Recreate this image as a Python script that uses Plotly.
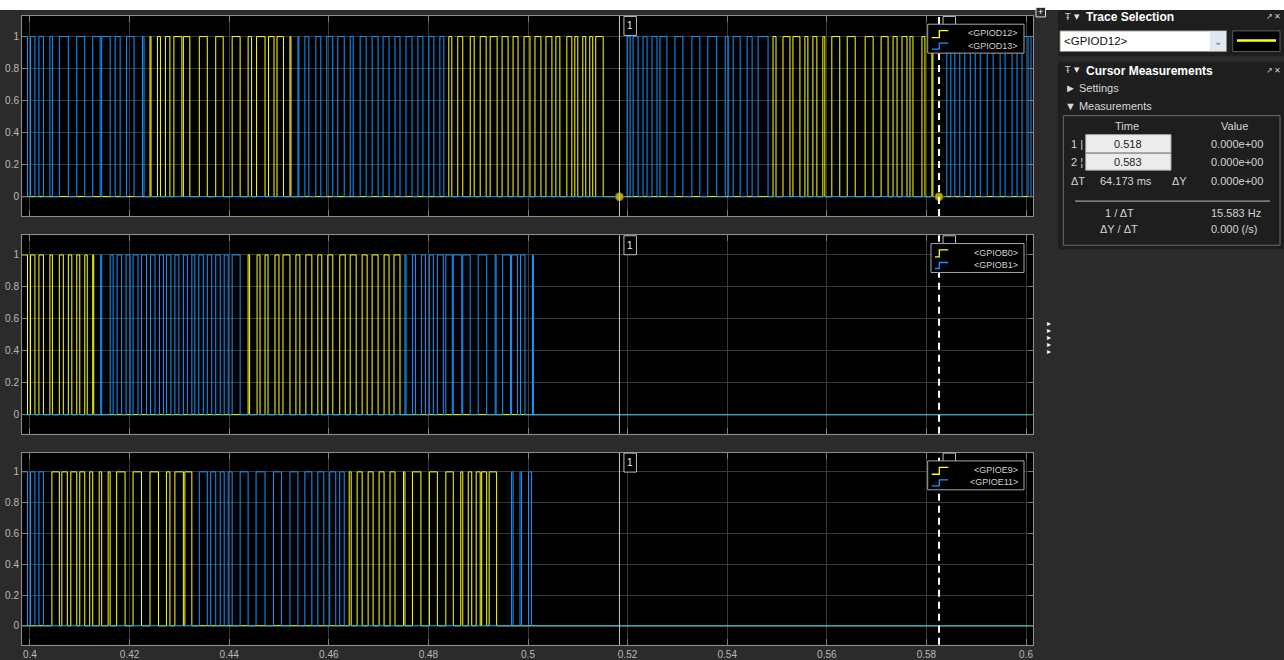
import plotly.graph_objects as go

W, H = 1284, 660

# ---- logic traces: toggle times in ms; every line idles low and flips at each listed edge ----
GPIOD12_MS = [
    424.1, 424.3, 425.6, 426.2, 427.2, 428.1, 428.9, 430.5, 430.8, 432.1, 434.0, 435.6, 437.3,
    438.8, 440.6, 442.2, 443.8, 444.5, 445.5, 447.2, 447.9, 449.0, 449.6, 450.9, 452.2, 452.4,
    484.1, 484.7, 485.9, 486.9, 488.4, 489.2, 490.4, 491.6, 492.4, 493.8, 494.8, 496.0, 497.0,
    498.0, 499.2, 500.4, 501.4, 502.6, 503.6, 504.8, 505.6, 506.4, 507.8, 508.8, 509.4, 510.0,
    511.0, 511.6, 512.4, 513.0, 513.6, 515.1,
    549.2, 549.8, 551.2, 552.6, 553.2, 554.6, 555.6, 556.2, 557.2, 558.0, 559.2, 559.6, 561.0,
    562.6, 564.1, 565.7, 567.7, 569.3, 570.9, 572.3, 573.3, 574.1, 575.1, 576.1, 576.7, 577.3,
    579.1, 579.7, 581.1, 581.3,
]
GPIOD13_MS = [
    398.0, 399.5, 400.1, 401.0, 401.8, 402.7, 404.0, 404.5, 405.9, 407.7, 409.4, 411.0, 412.6,
    414.1, 414.4, 416.1, 417.1, 418.1, 419.4, 420.9, 422.6, 422.9,
    453.8, 454.0, 455.2, 456.0, 457.4, 458.4, 459.6, 460.8, 461.8, 463.1, 464.3, 464.9, 466.3,
    467.5, 468.7, 469.9, 470.9, 472.1, 473.3, 474.3, 475.5, 476.7, 477.9, 478.9, 480.1, 481.1,
    482.3, 483.1,
    519.9, 520.5, 521.1, 522.1, 523.1, 523.9, 524.9, 525.9, 526.5, 527.9, 529.5, 531.1, 532.9,
    534.5, 536.1, 537.9, 539.6, 540.2, 541.2, 542.6, 544.0, 545.0, 546.2, 548.2,
    584.1, 584.9, 585.7, 586.7, 587.7, 588.8, 589.8, 590.8, 592.2, 593.4, 594.8, 595.8, 597.2,
    598.2, 599.2, 600.4, 601.0, 601.8,
]
GPIOB0_MS = [
    398.0, 399.5, 400.1, 401.0, 401.8, 402.7, 404.0, 404.5, 405.9, 406.7, 407.7, 408.4, 409.4,
    410.0, 411.0, 411.5, 412.6, 412.8,
    443.8, 444.1, 445.6, 446.2, 447.2, 447.8, 449.2, 450.0, 450.8, 452.2, 453.4, 454.2, 455.4,
    456.6, 457.8, 458.6, 459.8, 460.8, 462.2, 463.3, 464.3, 465.5, 466.7, 467.7, 468.7, 469.9,
    471.1, 472.1, 473.1, 474.3,
]
GPIOB1_MS = [
    414.2, 414.4, 416.1, 416.7, 417.5, 418.4, 419.3, 420.1, 420.7, 421.7, 422.4, 423.4, 424.2,
    425.1, 426.0, 426.8, 427.4, 428.3, 429.1, 429.9, 430.8, 431.6, 432.5, 433.1, 433.9, 434.8,
    435.6, 436.5, 437.3, 438.2, 439.0, 439.8, 440.6, 442.2,
    475.3, 475.5, 476.8, 477.4, 478.6, 479.4, 480.2, 481.0, 481.8, 483.0, 483.5, 484.8, 485.0,
    486.7, 486.9, 488.4, 490.0, 491.7, 493.4, 493.6, 494.9, 496.5, 496.7, 497.9, 498.5, 499.4,
    500.9, 501.1,
]
GPIOE9_MS = [
    404.4, 405.9, 406.4, 407.5, 408.2, 409.4, 410.0, 411.0, 412.0, 412.6, 413.9, 414.4, 415.7,
    416.1, 417.4, 419.1, 420.7, 422.4, 424.1, 425.8, 427.4, 428.1, 429.1, 430.8, 431.1, 432.5,
    464.1, 464.5, 465.7, 466.7, 467.9, 468.9, 470.1, 471.1, 472.3, 473.3, 475.0, 475.3, 476.8,
    478.5, 480.2, 481.8, 483.5, 485.0, 486.5, 486.9, 488.0, 488.7, 489.6, 490.4, 490.7, 491.7,
    492.2, 493.7,
]
GPIOE11_MS = [
    398.0, 399.5, 400.1, 401.0, 401.8, 402.7,
    434.0, 435.6, 436.3, 437.3, 438.2, 439.0, 439.8, 440.6, 442.2, 443.8, 445.4, 447.2, 448.9,
    450.5, 452.2, 453.8, 455.2, 456.6, 457.8, 459.0, 460.2, 461.4, 462.2, 463.1,
    496.7, 497.0, 498.4, 498.7, 500.1, 500.7,
]

PANELS = [
    (("<GPIOD12>", GPIOD12_MS), ("<GPIOD13>", GPIOD13_MS)),
    (("<GPIOB0>", GPIOB0_MS), ("<GPIOB1>", GPIOB1_MS)),
    (("<GPIOE9>", GPIOE9_MS), ("<GPIOE11>", GPIOE11_MS)),
]

# cursor readout
CURSOR1_S = 0.51836
DELTA_T_MS = 64.173
CURSOR_VALUES = [0.0, 0.0]

X_TICKS = [0.40, 0.42, 0.44, 0.46, 0.48, 0.50, 0.52, 0.54, 0.56, 0.58, 0.60]
X_TICK_TEXT = ["0.4", "0.42", "0.44", "0.46", "0.48", "0.5", "0.52", "0.54", "0.56", "0.58", "0.6"]
Y_TICKS = [0, 0.2, 0.4, 0.6, 0.8, 1]
Y_TICK_TEXT = ["0", "0.2", "0.4", "0.6", "0.8", "1"]

# ---- styling / geometry ----
FONT = "Liberation Sans"
BG = "#2b2b2b"
YELLOW = "#ffff12"
BLUE = "#1597ff"
GRID = "#3a3a3a"
FRAME = "#8e8e8e"
TICKFONT = "#b9b9b9"

PLOT_L, PLOT_R = 22, 1033
X_RANGE = [0.3984, 0.6014]
PANEL_PX = [(16, 216.7), (236, 435), (454, 646.7)]
Y_RANGES = [[-0.121, 1.129], [-0.119, 1.123], [-0.123, 1.125]]


def step_xy(edges_ms, start=395.0, stop=605.0):
    xs, ys, lvl = [start / 1000], [0], 0
    for e in edges_ms:
        lvl = 1 - lvl
        xs.append(e / 1000)
        ys.append(lvl)
    xs.append(stop / 1000)
    ys.append(lvl)
    return xs, ys


def px(x):
    return x / W


def py(y):
    return 1 - y / H


def t2px(t):
    return PLOT_L + (t - X_RANGE[0]) / (X_RANGE[1] - X_RANGE[0]) * (PLOT_R - PLOT_L)


shapes, annos = [], []


def rect(x0, y0, x1, y1, fill=None, line=None, lw=1):
    shapes.append(dict(type="rect", xref="paper", yref="paper", x0=px(x0), x1=px(x1),
                       y0=py(y1), y1=py(y0), fillcolor=fill or "rgba(0,0,0,0)",
                       line=dict(color=line or "rgba(0,0,0,0)", width=lw if line else 0),
                       layer="above"))


def seg(x0, y0, x1, y1, color, lw=1, dash=None):
    shapes.append(dict(type="line", xref="paper", yref="paper", x0=px(x0), x1=px(x1),
                       y0=py(y0), y1=py(y1), line=dict(color=color, width=lw, dash=dash),
                       layer="above"))


def path(points, color, lw=1):
    d = "M" + " L".join(f"{px(x)},{py(y)}" for x, y in points)
    shapes.append(dict(type="path", xref="paper", yref="paper", path=d,
                       line=dict(color=color, width=lw), layer="above"))


def text(x, y, s, size=11, color="#d4d4d4", anchor="left", bold=False, family=FONT):
    annos.append(dict(x=px(x), y=py(y), xref="paper", yref="paper", text=f"<b>{s}</b>" if bold else s,
                      showarrow=False, xanchor=anchor, yanchor="middle",
                      font=dict(family=family, size=size, color=color)))


fig = go.Figure()
layout = dict(width=W, height=H, margin=dict(l=0, r=0, t=0, b=0), autosize=False,
              paper_bgcolor=BG, plot_bgcolor="#000000", showlegend=False)

c1 = CURSOR1_S
c2 = CURSOR1_S + DELTA_T_MS / 1000

for i, ((n1, e1), (n2, e2)) in enumerate(PANELS):
    sfx = "" if i == 0 else str(i + 1)
    top, bot = PANEL_PX[i]
    for name, edges, col in ((n1, e1, YELLOW), (n2, e2, BLUE)):
        xs, ys = step_xy(edges)
        fig.add_trace(go.Scatter(x=xs, y=ys, name=name, mode="lines",
                                 line=dict(color=col, width=1, shape="hv"),
                                 xaxis="x" + sfx, yaxis="y" + sfx))
    last = i == len(PANELS) - 1
    layout["xaxis" + sfx] = dict(
        domain=[px(PLOT_L), px(PLOT_R)], range=X_RANGE, anchor="y" + sfx,
        tickvals=X_TICKS, ticktext=X_TICK_TEXT, showticklabels=last,
        showgrid=True, gridcolor=GRID, gridwidth=1, zeroline=False,
        showline=True, linecolor=FRAME, linewidth=1, mirror="ticks",
        ticks="inside", ticklen=6, tickcolor="#7d7d7d",
        tickfont=dict(family=FONT, size=10, color=TICKFONT),
        **({} if last else dict(matches="x3")))
    layout["yaxis" + sfx] = dict(
        domain=[py(bot), py(top)], range=Y_RANGES[i], anchor="x" + sfx,
        tickvals=Y_TICKS, ticktext=Y_TICK_TEXT,
        showgrid=True, gridcolor=GRID, gridwidth=1, zeroline=False,
        showline=True, linecolor=FRAME, linewidth=1, mirror="ticks",
        ticks="inside", ticklen=5, tickcolor="#7d7d7d",
        tickfont=dict(family=FONT, size=10, color=TICKFONT))

    # measurement cursors
    for cx, col, lw, dash in ((c1, "#c9c9c9", 1, None), (c2, "#ffffff", 2, "7px,5px")):
        shapes.append(dict(type="line", xref="x" + sfx, yref=f"y{sfx} domain", x0=cx, x1=cx,
                           y0=0, y1=1, line=dict(color=col, width=lw, dash=dash), layer="above"))
    c1px, c2px = t2px(c1), t2px(c2)
    rect(c1px + 4.5, top + 0.5, c1px + 17, top + 19.5, fill="#000000", line="#bdbdbd")
    text(c1px + 10.8, top + 10, "1", size=10, color="#f0f0f0", anchor="center")
    rect(c2px + 4, top + 0.5, c2px + 16.5, top + 19.5, fill="#000000", line="#bdbdbd")

    # legend box
    lx0 = 927.7 if i != 1 else 931
    rect(lx0, top + 8.3, 1024, top + 37.3, fill="#000000", line="#a6a6a6")
    path([(lx0 + 4, top + 21.7), (939.3, top + 21.7), (939.3, top + 14.7), (948.3, top + 14.7)], YELLOW, 1.3)
    path([(lx0 + 4, top + 33.3), (939.3, top + 33.3), (939.3, top + 27.3), (948.3, top + 27.3)], BLUE, 1.3)
    text(1019.5, top + 17.3, n1, size=9, color="#d0d0d0", anchor="right")
    text(1019.5, top + 29.7, n2, size=9, color="#d0d0d0", anchor="right")

# cursor hit points on the selected trace
fig.add_trace(go.Scatter(x=[c1, c2], y=CURSOR_VALUES, mode="markers", xaxis="x", yaxis="y",
                         marker=dict(size=8, color="#b8ae00", line=dict(color="#6f6a00", width=1)),
                         cliponaxis=False))

# ---- window chrome ----
rect(0, 0, W, 10, fill="#ffffff")
rect(1036, 7.5, 1045.5, 17, fill="#2b2b2b", line="#e0e0e0")
text(1040.8, 12.2, "+", size=9, color="#ffffff", anchor="center")
for k in range(5):
    text(1048.5, 324 + k * 7.2, "▸", size=8, color="#f2f2f2", anchor="center", family="DejaVu Sans")

# Trace Selection panel
rect(1058, 10, W, 56, fill="#1e1e1e")
text(1067, 16.8, "Ŧ", size=9, color="#cfcfcf", anchor="center", family="DejaVu Sans")
text(1076.5, 16.8, "▼", size=7, color="#e8e8e8", anchor="center", family="DejaVu Sans")
text(1084, 17, "Trace Selection", size=12, color="#ffffff", bold=True)
text(1269, 16.5, "↗", size=8, color="#cfcfcf", anchor="center", family="DejaVu Sans")
text(1277.5, 16.5, "✕", size=8, color="#cfcfcf", anchor="center", family="DejaVu Sans")
rect(1060, 31, 1226.5, 51.7, fill="#ffffff", line="#8a8a8a")
rect(1210, 31.5, 1226, 51.2, fill="#dde8f1")
text(1218, 41.5, "⌄", size=10, color="#6d6d6d", anchor="center", family="DejaVu Sans")
text(1061.5, 41.2, "<GPIOD12>", size=11.5, color="#111111")
rect(1232.7, 31, 1280, 51.7, fill="#000000", line="#5c5c5c")
seg(1237, 40.5, 1276, 40.5, YELLOW, 2.5)

# Cursor Measurements panel
rect(1058, 62, W, 250, fill="#1e1e1e")
text(1067, 70.5, "Ŧ", size=9, color="#cfcfcf", anchor="center", family="DejaVu Sans")
text(1076.5, 70.5, "▼", size=7, color="#e8e8e8", anchor="center", family="DejaVu Sans")
text(1084, 70.8, "Cursor Measurements", size=12, color="#ffffff", bold=True)
text(1269, 70.3, "↗", size=8, color="#cfcfcf", anchor="center", family="DejaVu Sans")
text(1277.5, 70.3, "✕", size=8, color="#cfcfcf", anchor="center", family="DejaVu Sans")
text(1063, 88.3, "► Settings", size=11, color="#d8d8d8")
text(1063, 106.7, "▼ Measurements", size=11, color="#d8d8d8")
rect(1063.3, 116, 1280, 246, line="#6a6a6a")

t1_txt = f"{c1:.3f}"
t2_txt = f"{c2:.3f}"
v_txt = [f"{v:.3e}" for v in CURSOR_VALUES]
dy = CURSOR_VALUES[1] - CURSOR_VALUES[0]
text(1127, 126.7, "Time", anchor="center")
text(1234, 126.7, "Value", anchor="center")
text(1069, 144.3, "1 |", size=11)
text(1069, 162.3, "2 ¦", size=11)
rect(1085.7, 135, 1171, 153.3, fill="#ececec", line="#a0a0a0")
rect(1085.7, 154, 1171, 170.7, fill="#ececec", line="#a0a0a0")
text(1128, 144.3, t1_txt, color="#1a1a1a", anchor="center")
text(1128, 162.3, t2_txt, color="#1a1a1a", anchor="center")
text(1209, 144.3, v_txt[0])
text(1209, 162.3, v_txt[1])
text(1069, 181.7, "ΔT")
text(1125.5, 181.7, f"{DELTA_T_MS:.3f} ms", anchor="center")
text(1170, 181.7, "ΔY")
text(1209, 181.7, f"{dy:.3e}")
seg(1075, 201.7, 1270, 201.7, "#bdbdbd", 1)
text(1119, 214, "1 / ΔT", anchor="center")
text(1209, 214, f"{1000 / DELTA_T_MS:.3f} Hz")
text(1119, 230, "ΔY / ΔT", anchor="center")
text(1209, 230, f"{dy / (DELTA_T_MS / 1000):.3f} (/s)")

layout["shapes"] = shapes
layout["annotations"] = annos
fig.update_layout(**layout)
fig.write_html("out.html")
